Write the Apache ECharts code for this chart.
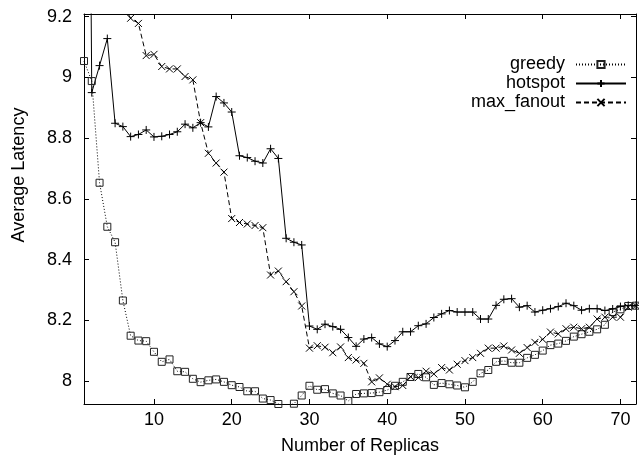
<!DOCTYPE html>
<html>
<head>
<meta charset="utf-8">
<script src="https://cdn.jsdelivr.net/npm/echarts@6/dist/echarts.min.js"></script>
<style>
html,body{margin:0;padding:0;background:#fff;}
#chart{width:639px;height:460px;}
</style>
</head>
<body>
<div id="chart"></div>
<script>
// Number of replicas (x values)
const replicas = [1,2,3,4,5,6,7,8,9,10,11,12,13,14,15,16,17,18,19,20,21,22,23,24,25,26,27,28,29,30,31,32,33,34,35,36,
  37,38,39,40,41,42,43,44,45,46,47,48,49,50,51,52,53,54,55,56,57,58,59,60,61,62,63,64,65,66,67,68,69,70,71,72];

const greedy = [9.054,8.988,8.653,8.508,8.457,8.265,8.149,8.133,8.131,8.096,8.063,8.071,8.032,8.030,8.007,7.996,8.002,8.005,
  7.997,7.986,7.980,7.966,7.966,7.942,7.937,7.924,7.915,7.925,7.952,7.984,7.971,7.973,7.959,7.952,7.934,7.957,
  7.959,7.960,7.963,7.970,7.984,7.997,8.013,8.023,8.012,7.987,7.993,7.989,7.985,7.979,7.997,8.025,8.036,8.063,
  8.066,8.060,8.060,8.076,8.086,8.100,8.118,8.123,8.132,8.146,8.154,8.162,8.170,8.185,8.227,8.236,8.247,8.248];

const hotspot = [12.3,8.950,9.039,9.128,8.849,8.838,8.805,8.812,8.827,8.804,8.806,8.812,8.821,8.846,8.834,8.851,8.837,8.937,
  8.916,8.886,8.742,8.736,8.724,8.718,8.765,8.733,8.470,8.457,8.448,8.181,8.170,8.187,8.179,8.170,8.143,8.114,
  8.138,8.143,8.122,8.113,8.133,8.162,8.162,8.182,8.188,8.209,8.221,8.232,8.227,8.227,8.227,8.204,8.204,8.249,
  8.269,8.271,8.243,8.248,8.227,8.233,8.238,8.245,8.256,8.248,8.233,8.238,8.238,8.232,8.237,8.245,8.249,8.249];

const maxFanout = [9.90,9.72,9.56,9.43,9.32,9.24,9.195,9.178,9.072,9.076,9.036,9.028,9.028,9.003,8.992,8.851,8.750,8.718,
  8.688,8.535,8.522,8.517,8.512,8.505,8.349,8.362,8.327,8.294,8.247,8.108,8.116,8.111,8.093,8.112,8.077,8.069,
  8.058,7.997,8.010,7.989,7.981,7.985,8.014,8.011,8.032,8.023,8.044,8.036,8.055,8.067,8.077,8.091,8.108,8.108,
  8.115,8.102,8.091,8.110,8.127,8.137,8.161,8.155,8.172,8.177,8.172,8.177,8.204,8.210,8.210,8.210,8.243,8.248];

const seriesNames = ['greedy','hotspot','max_fanout'];
const xTickLabels = ['10','20','30','40','50','60','70'];
const yTickLabels = ['8','8.2','8.4','8.6','8.8','9','9.2'];

const pair = arr => replicas.map((x, i) => [x, arr[i]]);

const FONT = 'Liberation Sans, Arial, Helvetica, sans-serif';
const xFmt = v => { const s = String(Math.round(v)); return (Math.abs(v - Math.round(v)) < 1e-9 && xTickLabels.includes(s)) ? s : ''; };
const yFmt = v => { const r = Math.round(v * 5) / 5; const s = String(parseFloat(r.toFixed(1))); return (Math.abs(v - r) < 1e-6 && yTickLabels.includes(s)) ? s : ''; };

const axisCommon = {
  type: 'value',
  axisLine: { show: true, lineStyle: { color: '#000', width: 1 } },
  axisTick: { show: true, inside: true, length: 5, lineStyle: { color: '#000', width: 1 } },
  splitLine: { show: false }
};

const chart = echarts.init(document.getElementById('chart'), null, { renderer: 'canvas' });
chart.setOption({
  animation: false,
  backgroundColor: '#fff',
  textStyle: { fontFamily: FONT, color: '#000' },
  grid: { left: 84, right: 0, top: 14, bottom: 56 },
  legend: {
    orient: 'vertical', right: 12, top: 55, align: 'right', padding: 0,
    itemWidth: 50, itemHeight: 9, itemGap: 0,
    textStyle: { fontFamily: FONT, fontSize: 18, color: '#000', lineHeight: 19, padding: [0, 6, 0, 0] },
    data: seriesNames
  },
  xAxis: [
    Object.assign({}, axisCommon, {
      min: 1, max: 72, splitNumber: 7, position: 'bottom',
      axisLabel: { formatter: xFmt, color: '#000', fontFamily: FONT, fontSize: 18, margin: 7 },
      name: 'Number of Replicas', nameLocation: 'middle', nameGap: 33,
      nameTextStyle: { fontFamily: FONT, fontSize: 18, color: '#000' }
    }),
    Object.assign({}, axisCommon, {
      min: 1, max: 72, splitNumber: 7, position: 'top',
      axisLabel: { show: false }
    })
  ],
  yAxis: [
    Object.assign({}, axisCommon, {
      min: 7.924, max: 9.209, splitNumber: 6, position: 'left',
      axisLabel: { formatter: yFmt, color: '#000', fontFamily: FONT, fontSize: 18, margin: 12 },
      name: 'Average Latency', nameLocation: 'middle', nameGap: 56, nameRotate: 90,
      nameTextStyle: { fontFamily: FONT, fontSize: 18, color: '#000', padding: [0, 0, 0, 68] }
    }),
    Object.assign({}, axisCommon, {
      min: 7.924, max: 9.209, splitNumber: 6, position: 'right',
      axisLabel: { show: false }
    })
  ],
  series: [
    {
      name: 'greedy', type: 'line', data: pair(greedy), xAxisIndex: 0, yAxisIndex: 0,
      symbol: 'path://M0,0H10V10H0Z', symbolSize: 7, showAllSymbol: true, clip: true,
      itemStyle: { color: 'rgba(0,0,0,0)', borderColor: '#222', borderWidth: 1 },
      lineStyle: { color: '#000', width: 1, type: [1, 2] }
    },
    {
      name: 'hotspot', type: 'line', data: pair(hotspot), xAxisIndex: 0, yAxisIndex: 0,
      symbol: 'path://M0,5H10M5,0V10', symbolSize: 8, showAllSymbol: true, clip: true,
      itemStyle: { color: '#000', borderColor: '#000', borderWidth: 1 },
      lineStyle: { color: '#000', width: 1, type: 'solid' }
    },
    {
      name: 'max_fanout', type: 'line', data: pair(maxFanout), xAxisIndex: 0, yAxisIndex: 0,
      symbol: 'path://M0,0L10,10M10,0L0,10', symbolSize: 7, showAllSymbol: true, clip: true,
      itemStyle: { color: '#000', borderColor: '#000', borderWidth: 1 },
      lineStyle: { color: '#000', width: 1, type: [5, 3] }
    }
  ]
});
</script>
</body>
</html>
